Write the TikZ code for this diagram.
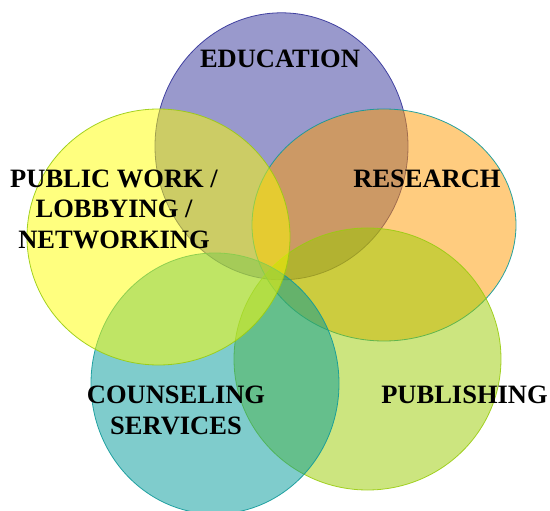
\documentclass[tikz,border=0pt]{standalone}
\usepackage{fontspec}
\setmainfont{Liberation Serif}
\usetikzlibrary{shapes.geometric}
\definecolor{cEdu}{HTML}{333399}
\definecolor{cRes}{HTML}{FF9900}
\definecolor{cPub}{HTML}{FFFF00}
\definecolor{cCou}{HTML}{009999}
\definecolor{cPbl}{HTML}{99CC00}
\definecolor{eTeal}{HTML}{109A9A}
\definecolor{eGreen}{HTML}{9ACC10}
\begin{document}
\begin{tikzpicture}[x=1pt,y=-1pt,
  blob/.style={ellipse, inner sep=0pt, fill opacity=0.5, draw opacity=0.9, line width=0.8pt},
  lbl/.style={font=\fontsize{26.5}{30.5}\selectfont\bfseries, text=black, inner sep=0pt, align=center}]
\useasboundingbox (0,0) rectangle (550,511);
\node[blob, fill=cEdu, draw=cEdu, minimum width=253pt, minimum height=267pt] (edu) at (281.5,146.3) {};
\node[blob, fill=cRes, draw=eTeal, minimum width=264pt, minimum height=232pt] (res) at (384,225) {};
\node[blob, fill=cPbl, draw=eGreen, minimum width=267pt, minimum height=262pt] (pbl) at (367.5,359) {};
\node[blob, fill=cCou, draw=eTeal, minimum width=248pt, minimum height=261pt] (cou) at (215,383.5) {};
\node[blob, fill=cPub, draw=eGreen, minimum width=263pt, minimum height=256pt] (pub) at (158.5,237) {};
\node[lbl, anchor=base] (tedu) at (280,68) {EDUCATION};
\node[lbl, anchor=base] (tres) at (427,188) {RESEARCH};
\node[lbl, anchor=base] (tpbl) at (464.5,403) {PUBLISHING};
\node[lbl, anchor=base] (tpub) at (114,248) {PUBLIC WORK /\\LOBBYING /\\NETWORKING};
\node[lbl, anchor=base] (tcou) at (176,434) {COUNSELING\\SERVICES};
\end{tikzpicture}
\end{document}
